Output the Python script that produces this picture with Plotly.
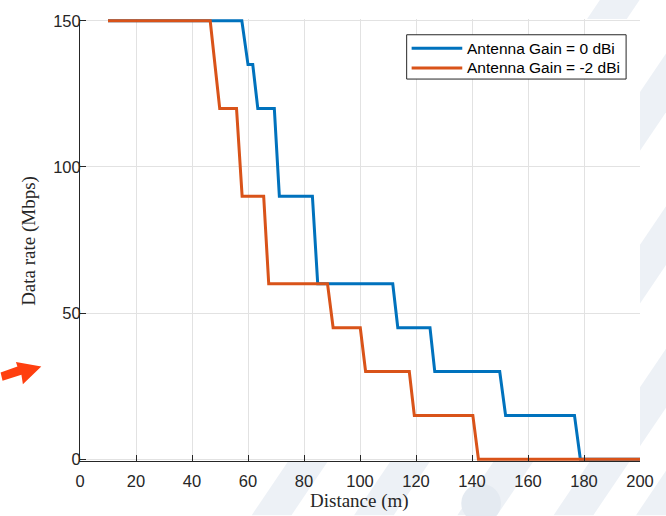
import plotly.graph_objects as go

# Data rate vs. distance for two antenna gains
dist_0dbi = [10, 57.8, 60, 61.7, 63.5, 69.4, 71.2, 83, 84.9, 111.7, 113.5,
             125, 126.7, 149.9, 152, 176.6, 178.7, 200]
rate_0dbi = [150, 150, 135, 135, 120, 120, 90, 90, 60, 60, 45,
             45, 30, 30, 15, 15, 0, 0]

dist_m2dbi = [10, 46.5, 49.9, 55.9, 57.9, 65.6, 67.4, 88.4, 90.4, 100.1,
              102, 117.6, 119.4, 140.3, 142.3, 200]
rate_m2dbi = [150, 150, 120, 120, 90, 90, 60, 60, 45, 45,
              30, 30, 15, 15, 0, 0]

series_names = ["Antenna Gain = 0 dBi", "Antenna Gain = -2 dBi"]
series_colors = ["#0072BD", "#D95319"]

x_ticks = list(range(0, 201, 20))
y_ticks = [0, 50, 100, 150]

# small padding on the y range so the thick lines at 0 and 150 are not clipped
Y_PAD = 0.6

W, H = 666, 516
L, R, T, B = 80, 22, 12, 55
PW, PH = W - L - R, H - T - B


def paper(px, py):
    """Pixel position in the page -> paper coordinates."""
    return (px - L) / PW, (H - B - py) / PH


def path_from(points):
    coords = [paper(x, y) for x, y in points]
    return "M" + " L".join(f"{x:.4f},{y:.4f}" for x, y in coords) + " Z"


fig = go.Figure()
for xs, ys, name, color in [(dist_0dbi, rate_0dbi, series_names[0], series_colors[0]),
                            (dist_m2dbi, rate_m2dbi, series_names[1], series_colors[1])]:
    fig.add_trace(go.Scatter(x=xs, y=ys, mode="lines", name=name,
                             line=dict(color=color, width=3), showlegend=False))

shapes = []
# faint diagonal bands in the page background
band_color = "#EDF1F6"
slope = 0.67
for x0 in [253, 356, 460, 557, 640, 735]:
    w = 40
    dx = slope * 540
    shapes.append(dict(type="path", xref="paper", yref="paper", layer="below",
                       path=path_from([(x0, 516), (x0 + w, 516),
                                       (x0 + w + dx, -24), (x0 + dx, -24)]),
                       fillcolor=band_color, line=dict(width=0)))
cx, cy, r = 484, 504, 20
x0p, y0p = paper(cx - r, cy + r)
x1p, y1p = paper(cx + r, cy - r)
shapes.append(dict(type="circle", xref="paper", yref="paper", layer="below",
                   x0=x0p, y0=y0p, x1=x1p, y1=y1p,
                   fillcolor="#E4EAF1", line=dict(width=0)))
# white axes background over the bands
shapes.append(dict(type="rect", xref="paper", yref="paper", layer="below",
                   x0=0, y0=0, x1=1, y1=1, fillcolor="white", line=dict(width=0)))
# red pointer arrow at the left edge
shapes.append(dict(type="path", xref="paper", yref="paper", layer="above",
                   path=path_from([(0, 371), (17, 365), (15.5, 360.5), (41, 365),
                                   (22.5, 383), (21, 373.5), (2, 379.5)]),
                   fillcolor="#FF3F0F", line=dict(width=0)))

# legend box with line samples
lx0, lx1, ly0, ly1 = 409, 630, 28, 73
bx0, by0 = paper(lx0, ly1)
bx1, by1 = paper(lx1, ly0)
shapes.append(dict(type="rect", xref="paper", yref="paper", layer="above",
                   x0=bx0, y0=by0, x1=bx1, y1=by1, fillcolor="white",
                   line=dict(color="#262626", width=1)))
legend_rows = [41.7, 61.7]
annotations = []
legend_font = dict(family="Liberation Sans, Arial, sans-serif", size=15.5, color="#000000")
for row_y, name, color in zip(legend_rows, series_names, series_colors):
    sx0, sy = paper(414, row_y)
    sx1, _ = paper(465, row_y)
    shapes.append(dict(type="line", xref="paper", yref="paper", layer="above",
                       x0=sx0, y0=sy, x1=sx1, y1=sy, line=dict(color=color, width=3)))
    tx, _ = paper(468, row_y)
    annotations.append(dict(text=name, xref="paper", yref="paper", x=tx, y=sy,
                            xanchor="left", yanchor="middle", showarrow=False,
                            font=legend_font))

tick_font = dict(family="Liberation Sans, Arial, sans-serif", size=16.5, color="#262626")
title_font = dict(family="Liberation Serif, Times New Roman, serif", size=19, color="#262626")

annotations += [
    dict(text="Distance (m)", xref="paper", yref="paper",
         x=paper(361, 0)[0], y=paper(0, 502)[1], showarrow=False,
         xanchor="center", yanchor="middle", font=title_font),
    dict(text="Data rate (Mbps)", xref="paper", yref="paper",
         x=paper(29, 0)[0], y=paper(0, 237)[1], showarrow=False, textangle=-90,
         xanchor="center", yanchor="middle", font=title_font),
]

fig.update_layout(
    width=W, height=H,
    margin=dict(l=L, r=R, t=T, b=B, pad=0),
    paper_bgcolor="white",
    plot_bgcolor="rgba(0,0,0,0)",
    shapes=shapes,
    annotations=annotations,
    showlegend=False,
)
fig.update_xaxes(range=[0, 200], tickvals=x_ticks, ticks="inside", ticklen=6,
                 tickcolor="#262626", showline=True, linecolor="#262626", linewidth=1,
                 showgrid=True, gridcolor="#E2E2E2", gridwidth=1, zeroline=False,
                 tickfont=tick_font, ticklabelstandoff=5)
fig.update_yaxes(range=[-Y_PAD, 150 + Y_PAD], tickvals=y_ticks, ticks="inside", ticklen=6,
                 tickcolor="#262626", showline=True, linecolor="#262626", linewidth=1,
                 showgrid=True, gridcolor="#E2E2E2", gridwidth=1, zeroline=False,
                 tickfont=tick_font, ticklabelstandoff=-5)

fig.write_html("out.html")
